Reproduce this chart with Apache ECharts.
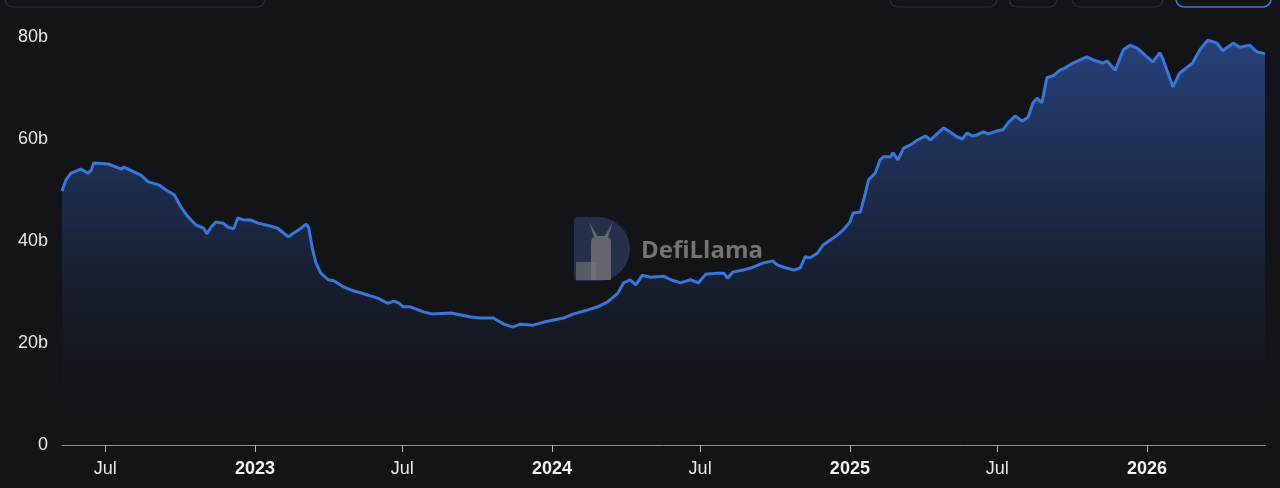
<!DOCTYPE html>
<html>
<head>
<meta charset="utf-8">
<script src="https://cdn.jsdelivr.net/npm/echarts@6/dist/echarts.min.js"></script>
<style>
  html, body { margin: 0; padding: 0; background: #131417; }
  #chart { width: 1280px; height: 488px; }
</style>
</head>
<body>
<div id="chart"></div>
<script>
const dates = [
  '2022-05-09','2022-05-14','2022-05-20','2022-06-01','2022-06-10','2022-06-14','2022-06-17','2022-07-05',
  '2022-07-21','2022-07-24','2022-08-14','2022-08-23','2022-09-05','2022-09-14','2022-09-24','2022-10-02',
  '2022-10-11','2022-10-21','2022-10-30','2022-11-03','2022-11-08','2022-11-14','2022-11-23','2022-11-29',
  '2022-12-06','2022-12-11','2022-12-19','2022-12-27','2023-01-05','2023-01-21','2023-01-29','2023-02-11',
  '2023-02-18','2023-02-26','2023-03-05','2023-03-08','2023-03-13','2023-03-17','2023-03-23','2023-04-01',
  '2023-04-08','2023-04-20','2023-04-29','2023-05-07','2023-05-20','2023-06-01','2023-06-13','2023-06-21',
  '2023-06-27','2023-07-02','2023-07-11','2023-07-27','2023-08-07','2023-08-30','2023-09-11','2023-09-23',
  '2023-10-05','2023-10-21','2023-11-03','2023-11-14','2023-11-23','2023-12-09','2023-12-22','2024-01-03',
  '2024-01-15','2024-01-28','2024-02-14','2024-02-26','2024-03-09','2024-03-22','2024-03-29','2024-04-06',
  '2024-04-13','2024-04-21','2024-05-01','2024-05-17','2024-05-26','2024-06-07','2024-06-19','2024-06-29',
  '2024-07-08','2024-07-22','2024-07-30','2024-08-04','2024-08-10','2024-08-23','2024-09-01','2024-09-17',
  '2024-09-28','2024-10-04','2024-10-11','2024-10-24','2024-11-01','2024-11-07','2024-11-13','2024-11-22',
  '2024-11-29','2024-12-08','2024-12-17','2024-12-24','2025-01-01','2025-01-05','2025-01-14','2025-01-20',
  '2025-01-24','2025-02-01','2025-02-07','2025-02-11','2025-02-20','2025-02-23','2025-03-01','2025-03-08',
  '2025-03-16','2025-03-25','2025-04-04','2025-04-10','2025-04-18','2025-04-26','2025-05-04','2025-05-13',
  '2025-05-19','2025-05-25','2025-05-31','2025-06-06','2025-06-14','2025-06-20','2025-07-01','2025-07-08',
  '2025-07-14','2025-07-23','2025-08-01','2025-08-08','2025-08-14','2025-08-19','2025-08-25','2025-08-31',
  '2025-09-08','2025-09-16','2025-09-22','2025-10-02','2025-10-19','2025-10-27','2025-11-08','2025-11-13',
  '2025-11-23','2025-12-03','2025-12-11','2025-12-20','2026-01-01','2026-01-08','2026-01-17','2026-01-21',
  '2026-02-02','2026-02-10','2026-02-26','2026-03-07','2026-03-17','2026-03-28','2026-04-04','2026-04-17',
  '2026-04-25','2026-05-07','2026-05-16','2026-05-26'
];
const values = [
  49.8,52.0,53.3,54.1,53.3,53.9,55.3,55.1,
  54.1,54.5,52.9,51.6,51.0,50.0,49.0,46.7,
  44.7,43.1,42.5,41.4,42.7,43.7,43.5,42.7,
  42.4,44.5,44.1,44.1,43.5,42.9,42.5,40.8,
  41.6,42.4,43.3,42.7,38.2,35.7,33.7,32.4,
  32.2,31.0,30.4,30.0,29.4,28.8,27.8,28.2,
  27.8,27.1,27.1,26.1,25.7,25.9,25.5,25.1,
  24.9,24.9,23.7,23.1,23.7,23.5,24.1,24.5,
  24.9,25.7,26.5,27.1,28.0,29.8,31.8,32.4,
  31.4,33.3,32.9,33.1,32.4,31.8,32.4,31.8,
  33.5,33.7,33.7,32.7,33.9,34.3,34.7,35.7,
  36.1,35.3,34.9,34.3,34.7,36.9,36.7,37.6,
  39.2,40.2,41.2,42.2,43.7,45.5,45.7,49.4,
  52.0,53.3,55.9,56.5,56.5,57.3,55.9,58.2,
  58.8,59.8,60.6,59.8,61.0,62.2,61.4,60.4,
  60.0,61.2,60.6,60.8,61.4,61.0,61.6,61.8,
  63.1,64.5,63.5,64.3,67.1,68.0,67.1,72.0,
  72.4,73.5,73.9,74.9,76.1,75.5,74.9,75.3,
  73.5,77.5,78.4,77.8,76.1,75.1,76.9,75.5,
  70.2,72.9,74.9,77.5,79.4,78.8,77.3,78.8,
  78.0,78.4,77.1,76.7
];
const yTicks = [0, 20, 40, 60, 80];

const chart = echarts.init(document.getElementById('chart'));
const seriesData = dates.map((d, i) => [d, values[i]]);
const DAY = 86400000;
const FONT = 'Liberation Sans, Arial, sans-serif';

const option = {
  backgroundColor: '#131417',
  animation: false,
  grid: { left: 62, right: 15, top: 37, bottom: 43, containLabel: false },
  xAxis: {
    type: 'time',
    min: dates[0],
    max: dates[dates.length - 1],
    minInterval: 183 * DAY,
    maxInterval: 183 * DAY,
    splitLine: { show: false },
    axisLine: { show: true, lineStyle: { color: '#8b9099', width: 1 } },
    axisTick: { show: true, length: 7, lineStyle: { color: '#b0b4bb', width: 1 } },
    axisLabel: {
      color: '#e8e8ea',
      fontSize: 18,
      fontFamily: FONT,
      margin: 15,
      showMinLabel: false,
      showMaxLabel: false,
      formatter: function (value) {
        const d = new Date(value);
        if (d.getDate() !== 1) return '';
        if (d.getMonth() === 0) return '{y|' + d.getFullYear() + '}';
        if (d.getMonth() === 6) return 'Jul';
        return '';
      },
      rich: {
        y: { fontWeight: 'bold', fontSize: 18, color: '#f2f2f4', fontFamily: FONT }
      }
    }
  },
  yAxis: {
    type: 'value',
    min: yTicks[0],
    max: yTicks[yTicks.length - 1],
    interval: 20,
    splitLine: { show: false },
    axisLine: { show: false },
    axisTick: { show: false },
    axisLabel: {
      color: '#e8e8ea',
      fontSize: 18,
      fontFamily: FONT,
      margin: 14,
      formatter: v => v === 0 ? '0' : v + 'b'
    }
  },
  series: [{
    type: 'line',
    data: seriesData,
    showSymbol: false,
    symbol: 'none',
    smooth: false,
    lineStyle: { color: '#3a77da', width: 3 },
    areaStyle: {
      color: new echarts.graphic.LinearGradient(0, 0, 0, 1, [
        { offset: 0, color: 'rgba(52,96,190,0.85)' },
        { offset: 0.45, color: 'rgba(38,66,130,0.6)' },
        { offset: 1, color: 'rgba(20,22,28,0.0)' }
      ])
    },
    z: 3
  }],
  graphic: [
    { type: 'rect', shape: { x: 5, y: -30, width: 260, height: 37, r: 8 }, style: { fill: 'none', stroke: '#2a2e3c', lineWidth: 1.2 } },
    { type: 'rect', shape: { x: 890, y: -30, width: 107, height: 37, r: 8 }, style: { fill: 'none', stroke: '#2a2e3c', lineWidth: 1.2 } },
    { type: 'rect', shape: { x: 1009, y: -30, width: 48, height: 37, r: 8 }, style: { fill: 'none', stroke: '#2a2e3c', lineWidth: 1.2 } },
    { type: 'rect', shape: { x: 1072, y: -30, width: 91, height: 37, r: 8 }, style: { fill: 'none', stroke: '#2a2e3c', lineWidth: 1.2 } },
    { type: 'rect', shape: { x: 1176, y: -30, width: 95, height: 37, r: 8 }, style: { fill: 'none', stroke: '#3a77da', lineWidth: 1.6 } },
    {
      type: 'group', z: 1, silent: true,
      children: [
        { type: 'rect', shape: { x: 574, y: 217, width: 56, height: 64, r: [4, 32, 32, 4] }, style: { fill: 'rgba(45,58,92,0.75)' } },
        { type: 'rect', shape: { x: 591, y: 236, width: 20, height: 44, r: [6, 6, 0, 0] }, style: { fill: 'rgba(120,120,120,0.75)' } },
        { type: 'polygon', shape: { points: [[589, 222], [594, 237], [598, 237]] }, style: { fill: 'rgba(120,120,120,0.75)' } },
        { type: 'polygon', shape: { points: [[613, 222], [604, 237], [608, 237]] }, style: { fill: 'rgba(120,120,120,0.75)' } },
        { type: 'rect', shape: { x: 576, y: 262, width: 20, height: 18 }, style: { fill: 'rgba(120,120,120,0.6)' } },
        { type: 'text', x: 641, y: 251, style: { text: 'DefiLlama', fill: 'rgba(140,140,145,0.8)', font: 'bold 24px "Open Sans", "Liberation Sans", Arial, sans-serif', verticalAlign: 'middle', align: 'left' } }
      ]
    }
  ]
};
chart.setOption(option);
</script>
</body>
</html>
